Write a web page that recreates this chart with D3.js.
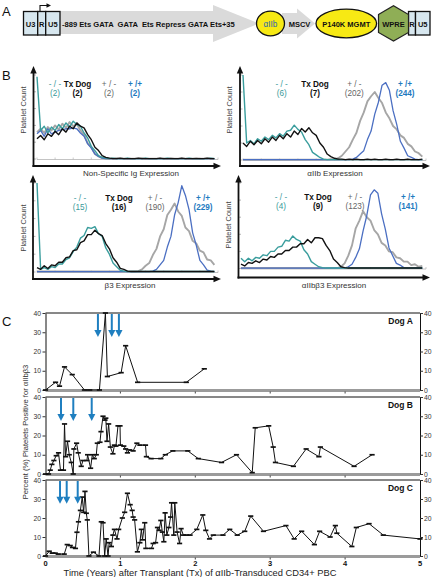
<!DOCTYPE html>
<html><head><meta charset="utf-8">
<script src="https://cdn.jsdelivr.net/npm/d3@7"></script>
<style>
body{margin:0;background:#fff}
svg{display:block;font-family:"Liberation Sans",Arial,Helvetica,sans-serif}
</style>
</head><body>
<svg id="c" width="433" height="577"></svg>
<script>
// ---------------- DATA ----------------
// Panel B: flow histograms (relative platelet count per expression bin)
const binStarts = [0,2,4,6,8,10,12,14,16,18,20,22,24,26,28,30,32,34,36,38,40,42,44,46,48,50,52,54,56,58,60,62,64,66,68,70,72,74,76,78,80,82,84,86,88,90,92,94,96,98];
const legendLabels = ['- / -','Tx Dog','+ / -','+ /+'];
const histXLabels = ['Non-Specific Ig Expression','\u03b1IIb Expression','\u03b23 Expression','\u03b1IIb\u03b23 Expression'];
const countsIg = [2,2,2,2];
const countsAIIb = [6,7,202,244];
const countsB3 = [15,16,190,229];
const countsAB3 = [4,9,123,141];

const igTeal = [98,34,39,31,38,34,41,36,43,38,45,41,39,31,25,15,10,4,2,1,0.5,1,0.5,0.5,0.5,1,0.5,0.5,0.5,0.5,1,0.5,0.5,0.5,0.5,0.5,1,0.5,0.5,0.5,0.5,0.5,1,0.5,0.5,0.5,0.5,0.5,1,0.5];
const igBlack = [24,28,23,30,27,33,29,36,32,39,36,43,39,37,29,23,14,10,4,2,1,0.5,0.5,1,0.5,0.5,0.5,0.5,1,0.5,0.5,0.5,0.5,0.5,1,0.5,0.5,0.5,0.5,0.5,1,0.5,0.5,0.5,0.5,0.5,0.5,1,0.5,0.5];
const igGray = [32,36,31,38,34,40,35,42,37,44,39,42,34,29,19,14,6,3,1,0.5,0.5,0.5,1,0.5,0.5,0.5,0.5,0.5,0.5,1,0.5,0.5,0.5,0.5,0.5,0.5,0.5,1,0.5,0.5,0.5,0.5,0.5,0.5,1,0.5,0.5,0.5,0.5,0.5];
const igBlue = [30,34,27,36,30,32,34,35,36,36,37,36,31,27,18,13,6,3,1,0.5,0.5,0.5,0.5,0.5,0.5,0.5,0.5,0.5,0.5,0.5,0.5,0.5,0.5,0.5,0.5,0.5,0.5,0.5,0.5,0.5,0.5,0.5,0.5,0.5,0.5,0.5,0.5,0.5,0.5,0.5];

const aTeal = [100,20,23,19,25,22,27,24,29,26,31,28,34,35,41,36,33,24,18,9,6,3,1,0.5,0.5,0.5,0.5,0.5,0.5,0.5,0.5,0.5,0.5,0.5,0.5,0.5,0.5,0.5,0.5,0.5,0.5,0.5,0.5,0.5,0.5,0.5,0.5,0.5,0.5,0.5];
const aBlack = [20,16,22,18,23,19,25,21,27,23,29,25,31,27,34,30,37,33,38,32,29,20,15,7,4,2,1,1,0.5,1,0.5,1,0.5,0.5,1,0.5,1,0.5,0.5,1,0.5,0.5,1,0.5,0.5,1,0.5,0.5,0.5,1];
const aGray = [0.5,0.5,0.5,0.5,0.5,0.5,0.5,0.5,0.5,0.5,0.5,0.5,0.5,0.5,0.5,0.5,0.5,0.5,0.5,0.5,0.5,0.5,0.5,0.5,1,1,2,5,10,15,24,32,46,56,69,75,80,73,67,56,49,40,36,29,26,19,16,10,8,4];
const aBlue = [0.5,0.5,0.5,0.5,0.5,0.5,0.5,0.5,0.5,0.5,0.5,0.5,0.5,0.5,0.5,0.5,0.5,0.5,0.5,0.5,0.5,0.5,0.5,0.5,0.5,0.5,0.5,0.5,0.5,0.5,1,3,7,11,24,34,54,68,88,91,82,58,42,22,14,5,3,1,0.5,0.5];

const bTeal = [100,3,5,3,6,5,9,9,14,16,23,28,38,41,50,49,51,43,40,27,20,10,6,2,1,0.5,0.5,0.5,0.5,0.5,0.5,0.5,0.5,0.5,0.5,0.5,0.5,0.5,0.5,0.5,0.5,0.5,0.5,0.5,0.5,0.5,0.5,0.5,0.5,0.5];
const bBlack = [5,3,7,4,8,7,11,11,16,17,24,25,33,35,42,42,47,43,41,32,26,16,11,4,3,1,0.5,0.5,0.5,0.5,0.5,0.5,0.5,0.5,0.5,0.5,0.5,0.5,0.5,0.5,0.5,0.5,0.5,0.5,0.5,0.5,0.5,0.5,0.5,0.5];
const bGray = [0.5,0.5,0.5,0.5,0.5,0.5,0.5,0.5,0.5,0.5,0.5,0.5,0.5,0.5,0.5,0.5,0.5,0.5,0.5,0.5,0.5,0.5,0.5,0.5,0.5,0.5,0.5,0.5,1,3,7,10,19,26,40,48,64,70,77,68,63,50,46,35,32,24,22,14,13,8];
const bBlue = [0.5,0.5,0.5,0.5,0.5,0.5,0.5,0.5,0.5,0.5,0.5,0.5,0.5,0.5,0.5,0.5,0.5,0.5,0.5,0.5,0.5,0.5,0.5,0.5,0.5,0.5,0.5,0.5,0.5,0.5,0.5,0.5,1,3,8,13,28,40,64,78,97,86,70,44,30,13,8,2,1,0.5];

const abTeal = [12,8,12,9,13,12,16,15,20,20,25,26,33,32,38,34,32,22,17,8,5,2,1,0.5,0.5,0.5,0.5,0.5,0.5,0.5,0.5,0.5,0.5,0.5,0.5,0.5,0.5,0.5,0.5,0.5,0.5,0.5,0.5,0.5,0.5,0.5,0.5,0.5,0.5,0.5];
const abBlack = [5,3,7,6,9,7,11,10,14,13,17,17,21,21,25,25,29,29,34,30,36,36,35,27,21,11,7,2,1,0.5,0.5,0.5,0.5,0.5,0.5,0.5,0.5,0.5,0.5,0.5,0.5,0.5,0.5,0.5,0.5,0.5,0.5,0.5,0.5,0.5];
const abGray = [0.5,0.5,0.5,0.5,0.5,0.5,0.5,0.5,0.5,0.5,0.5,0.5,0.5,0.5,0.5,0.5,0.5,0.5,0.5,0.5,0.5,0.5,0.5,0.5,0.5,0.5,0.5,2,6,15,27,47,56,67,60,56,45,40,30,27,20,19,13,12,8,8,4,5,2,3];
const abBlue = [0.5,0.5,0.5,0.5,0.5,0.5,0.5,0.5,0.5,0.5,0.5,0.5,0.5,0.5,0.5,0.5,0.5,0.5,0.5,0.5,0.5,0.5,0.5,0.5,0.5,0.5,0.5,0.5,0.5,2,5,13,23,44,62,86,92,88,64,46,24,15,6,4,1,0.5,0.5,0.5,0.5,0.5];

// Panel C: percent platelets positive for aIIbb3 over time (years)
const dogAYears = [0,0.134,0.187,0.254,0.357,0.52,0.59,0.72,0.80,0.826,1.01,1.07,1.23,1.88,2.12];
const dogAValues = [0,4,2,12,8,0,0,0,40,7,9,23,4,4,11];
const dogAArrows = [0.70,0.885,0.98];

const dogBYears = [0,0.04,0.063,0.085,0.112,0.143,0.174,0.2,0.24,0.254,0.268,0.294,0.317,0.344,0.37,0.379,0.415,0.437,0.477,0.5,0.553,0.562,0.602,0.625,0.651,0.678,0.692,0.727,0.741,0.768,0.794,0.805,0.821,0.843,0.866,0.9,0.92,0.94,0.968,0.995,1.0,1.045,1.07,1.094,1.125,1.17,1.22,1.26,1.335,1.347,1.41,1.54,1.6,1.7,1.9,2.04,2.35,2.55,2.76,2.8,2.98,3.04,3.07,3.31,3.48,3.65,3.67,4.12,4.36];
const dogBValues = [0,0,2,5,7,9.5,11,2,2,26,9,17,10,6,0,13,16,11,4,7,7,10,3,10,8,10,16,16.5,22,30,28,29,17,26,14,10.5,15,14.5,25,25,15,14.5,13,11,12.5,12,16,15,15,9,8,8,10,12,12,8,6,10,0.7,24,25,14,6,4,13,9,14,4,10];
const dogBArrows = [0.207,0.371,0.617];

const dogCYears = [0,0.05,0.09,0.13,0.17,0.25,0.29,0.33,0.36,0.40,0.42,0.44,0.466,0.49,0.51,0.527,0.545,0.558,0.58,0.64,0.714,0.745,0.768,0.79,0.81,0.835,0.85,0.88,0.90,0.92,0.955,0.977,1.026,1.057,1.094,1.13,1.157,1.17,1.19,1.227,1.26,1.28,1.295,1.325,1.34,1.415,1.437,1.47,1.495,1.517,1.54,1.56,1.58,1.597,1.62,1.647,1.67,1.683,1.713,1.726,1.757,1.79,1.81,1.84,1.88,1.93,2.02,2.1,2.14,2.19,2.24,2.37,2.46,2.56,2.66,2.74,2.91,3.21,3.32,3.42,3.59,3.66,3.8,3.87,3.89,4.09,4.15,4.32,4.51,5.0];
const dogCValues = [0,2.5,1.5,1.5,1,1,6,5.5,4.5,4,12.5,18,24,31,23,34,22.5,19,0,2,0,18,17.5,0,9,0,7,5,11,14,9,14,20,23,33,27,24,20.5,19,2.2,7,14,8.5,17.5,4,4,6.6,7,15,13.5,18.7,12.6,7.5,22.7,11,15,20.5,28,11,28,12.6,6.6,14.4,11,11,11,14,21.6,13.5,9,11,11,14,11,13,21,13,16,9,13,6,13,10,16,12,5,15,17,11,9];
const dogCArrows = [0.194,0.283,0.43];

const yTicksC = [0,10,20,30,40];
const yearTicks = [0,1,2,3,4,5];

// ---------------- DRAW ----------------
const svg = d3.select('#c');
const C_TEAL = '#3a9d9d', C_BLUE_LINE = '#4b6fc2', C_GRAY = '#a6a6a6', C_ARROW = '#1f7fc0';

function txt(g, x, y, s, o = {}) {
  return g.append('text').attr('x', x).attr('y', y).text(s)
    .attr('font-size', o.size || 8).attr('font-weight', o.weight || 'normal')
    .attr('fill', o.fill || '#111').attr('text-anchor', o.anchor || 'middle')
    .style('white-space', 'pre');
}

// panel letters
txt(svg, 2, 16, 'A', {size: 13, anchor: 'start'});
txt(svg, 2, 80, 'B', {size: 13, anchor: 'start'});
txt(svg, 2, 326, 'C', {size: 13, anchor: 'start'});

// ---------- Panel A : vector map ----------
const A = svg.append('g');
A.append('polygon').attr('points', '60,11 213,11 213,5 259,23.5 213,42 213,34 60,34').attr('fill', '#dadada');
A.append('polygon').attr('points', '282,13 297,13 297,8.5 315,23.5 297,38.5 297,34 282,34').attr('fill', '#dadada');
function ltrBox(x0, widths, labels) {
  let x = x0;
  widths.forEach((w, i) => {
    A.append('rect').attr('x', x).attr('y', 11.5).attr('width', w).attr('height', 23.5)
      .attr('fill', '#d7e7ef').attr('stroke', '#111').attr('stroke-width', 1.3);
    txt(A, x + w / 2, 26.5, labels[i], {size: 7.5, weight: 'bold'});
    x += w;
  });
}
ltrBox(23.5, [14.2, 8, 14.3], ['U3', 'R', 'U5']);
ltrBox(408.5, [7, 14.5], ['R', 'U5']);
A.append('path').attr('d', 'M40,11.5 V5.5 H47.5').attr('fill', 'none').attr('stroke', '#111').attr('stroke-width', 1.1);
A.append('polygon').attr('points', '46.5,3.2 51,5.5 46.5,7.8').attr('fill', '#111');
txt(A, 62, 26.5, '-889 Ets GATA  GATA  Ets Repress GATA Ets+35', {size: 7.6, weight: 'bold', anchor: 'start'});
A.append('ellipse').attr('cx', 270.5).attr('cy', 23.5).attr('rx', 14).attr('ry', 12.3)
  .attr('fill', '#f7e914').attr('stroke', '#111').attr('stroke-width', 1.3);
txt(A, 270.5, 26.8, '\u03b1IIb', {size: 8.2, fill: '#2a68b0'});
txt(A, 299.5, 26.5, 'MSCV', {size: 7.5, weight: 'bold'});
A.append('ellipse').attr('cx', 346.3).attr('cy', 23.5).attr('rx', 30.3).attr('ry', 14.3)
  .attr('fill', '#f7e914').attr('stroke', '#111').attr('stroke-width', 1.3);
txt(A, 346.3, 26.5, 'P140K MGMT', {size: 7.5, weight: 'bold'});
A.append('polygon').attr('points', '378.5,14.5 393.5,5.8 408.5,14.5 408.5,32.5 393.5,41 378.5,32.5')
  .attr('fill', '#8fae56').attr('stroke', '#222').attr('stroke-width', 1.2);
txt(A, 393.5, 26.5, 'WPRE', {size: 7.5, weight: 'bold'});

// ---------- Panel B : histograms ----------
const histPanels = [
  {ax: 33.5, ayTop: 66, xAxisY: 166, axEnd: 221, base: 159, x0: 37, x1: 218, top: 75,
   series: [igGray, igBlue, igTeal, igBlack], counts: countsIg, legX: [55, 77.5, 109, 135], legY: 87,
   xl: histXLabels[0], xlX: 131, xlY: 175.5, ylX: 25.5, ylY: 110},
  {ax: 240, ayTop: 66, xAxisY: 166, axEnd: 430, base: 160, x0: 243, x1: 426, top: 75,
   series: [aGray, aBlue, aTeal, aBlack], counts: countsAIIb, legX: [281.7, 315, 354.3, 405], legY: 87,
   xl: histXLabels[1], xlX: 335, xlY: 176, ylX: 232, ylY: 110},
  {ax: 33, ayTop: 175, xAxisY: 279, axEnd: 221, base: 272, x0: 37, x1: 218, top: 183,
   series: [bGray, bBlue, bTeal, bBlack], counts: countsB3, legX: [80, 119, 155, 203], legY: 200.5,
   xl: histXLabels[2], xlX: 130, xlY: 288, ylX: 25.5, ylY: 228},
  {ax: 238.5, ayTop: 175, xAxisY: 277.5, axEnd: 430, base: 268.5, x0: 241, x1: 426, top: 183,
   series: [abGray, abBlue, abTeal, abBlack], counts: countsAB3, legX: [281, 318, 355, 408], legY: 200,
   xl: histXLabels[3], xlX: 334, xlY: 288, ylX: 231, ylY: 225}
];
const seriesStyle = [
  {c: C_GRAY, w: 1.9}, {c: C_BLUE_LINE, w: 1.3}, {c: C_TEAL, w: 1.4}, {c: '#111', w: 1.4}
];
const legendColors = ['#3a9a9a', '#111', '#666', '#1f7bbf'];
const legendWeights = ['normal', 'bold', 'normal', 'bold'];

histPanels.forEach(p => {
  const g = svg.append('g');
  const x = d3.scaleLinear([0, 100], [p.x0, p.x1]);
  const y = d3.scaleLinear([0, 100], [p.base, p.top]);
  g.append('line').attr('x1', p.x0).attr('x2', p.x1).attr('y1', p.base + 0.5).attr('y2', p.base + 0.5)
    .attr('stroke', '#b5b5b5').attr('stroke-width', 0.8);
  x.ticks(10).forEach(t => g.append('line').attr('x1', x(t)).attr('x2', x(t))
    .attr('y1', p.base + 0.5).attr('y2', p.base - 1.5).attr('stroke', '#b5b5b5').attr('stroke-width', 0.7));
  y.ticks(4).forEach(t => g.append('line').attr('x1', p.ax).attr('x2', p.ax + 2.5)
    .attr('y1', y(t)).attr('y2', y(t)).attr('stroke', '#999').attr('stroke-width', 0.7));
  const line = d3.line().x((d, i) => x(binStarts[i])).y(d => y(d));
  p.series.forEach((s, k) => {
    g.append('path').datum(s).attr('d', line).attr('fill', 'none')
      .attr('stroke', seriesStyle[k].c).attr('stroke-width', seriesStyle[k].w)
      .attr('stroke-linejoin', 'round');
  });
  g.append('line').attr('x1', p.ax).attr('x2', p.ax).attr('y1', p.xAxisY + 1).attr('y2', p.ayTop + 6)
    .attr('stroke', '#111').attr('stroke-width', 1.8);
  g.append('polygon').attr('points', `${p.ax - 3.2},${p.ayTop + 7.5} ${p.ax},${p.ayTop} ${p.ax + 3.2},${p.ayTop + 7.5}`).attr('fill', '#111');
  g.append('line').attr('x1', p.ax - 1).attr('x2', p.axEnd - 6).attr('y1', p.xAxisY).attr('y2', p.xAxisY)
    .attr('stroke', '#111').attr('stroke-width', 1.8);
  g.append('polygon').attr('points', `${p.axEnd - 7.5},${p.xAxisY - 3.2} ${p.axEnd},${p.xAxisY} ${p.axEnd - 7.5},${p.xAxisY + 3.2}`).attr('fill', '#111');
  p.legX.forEach((lx, i) => {
    txt(g, lx, p.legY, legendLabels[i], {size: 8.2, weight: legendWeights[i], fill: legendColors[i]});
    txt(g, lx, p.legY + 9, '(' + p.counts[i] + ')', {size: 8.2, weight: legendWeights[i], fill: legendColors[i]});
  });
  txt(g, p.xlX, p.xlY, p.xl, {size: 8, fill: '#333'});
  txt(g, 0, 0, 'Platelet Count', {size: 7.5, fill: '#444'})
    .attr('transform', `translate(${p.ylX},${p.ylY}) rotate(-90)`);
});

// ---------- Panel C : time courses ----------
const xC = d3.scaleLinear([0, 5], [45.5, 420]);
const dogs = [
  {name: 'Dog A', years: dogAYears, values: dogAValues, arrows: dogAArrows, top: 313, bottom: 390},
  {name: 'Dog B', years: dogBYears, values: dogBValues, arrows: dogBArrows, top: 397, bottom: 474},
  {name: 'Dog C', years: dogCYears, values: dogCValues, arrows: dogCArrows, top: 480, bottom: 556}
];
dogs.forEach((d, di) => {
  const g = svg.append('g');
  const y = d3.scaleLinear([0, 40], [d.bottom, d.top]);
  g.append('line').attr('x1', xC(0)).attr('x2', xC(5)).attr('y1', y(40)).attr('y2', y(40))
    .attr('stroke', '#111').attr('stroke-width', 1);
  const la = g.append('g').attr('transform', `translate(${xC(0)},0)`)
    .call(d3.axisLeft(y).tickValues(yTicksC).tickSize(3).tickSizeOuter(0).tickPadding(1.5));
  const ra = g.append('g').attr('transform', `translate(${xC(5)},0)`)
    .call(d3.axisRight(y).tickValues(yTicksC).tickSize(3).tickSizeOuter(0).tickPadding(1));
  [la, ra].forEach(a => {
    a.select('.domain').attr('stroke', '#111').attr('stroke-width', 1);
    a.selectAll('.tick line').attr('stroke', '#333');
    a.selectAll('text').attr('font-size', 6.8).attr('fill', '#333')
      .attr('font-family', '"Liberation Sans",Arial,sans-serif');
  });
  g.append('line').attr('x1', xC(0)).attr('x2', xC(5)).attr('y1', y(0) + 0.5).attr('y2', y(0) + 0.5)
    .attr('stroke', '#9b9b9b').attr('stroke-width', 3);
  yearTicks.slice(1, 5).forEach(t => g.append('line').attr('x1', xC(t)).attr('x2', xC(t))
    .attr('y1', y(0) + 1.5).attr('y2', y(0) + 3.5).attr('stroke', '#444').attr('stroke-width', 1));
  const pts = d.years.map((yr, i) => [yr, d.values[i]]);
  g.append('path').datum(pts)
    .attr('d', d3.line().x(p => xC(p[0])).y(p => y(p[1])))
    .attr('fill', 'none').attr('stroke', '#111').attr('stroke-width', 1);
  g.selectAll('.cap').data(pts).join('line')
    .attr('x1', p => xC(p[0]) - 2.6).attr('x2', p => xC(p[0]) + 2.6)
    .attr('y1', p => y(p[1])).attr('y2', p => y(p[1]))
    .attr('stroke', '#111').attr('stroke-width', 1.7);
  d.arrows.forEach(a => {
    const ax = xC(a), tip = y(27.5);
    g.append('line').attr('x1', ax).attr('x2', ax).attr('y1', y(40) + 1).attr('y2', tip - 5)
      .attr('stroke', C_ARROW).attr('stroke-width', 2);
    g.append('polygon').attr('points', `${ax - 3.6},${tip - 7} ${ax + 3.6},${tip - 7} ${ax},${tip}`).attr('fill', C_ARROW);
  });
  txt(g, 413, y(40) + 11, d.name, {size: 8.5, weight: 'bold', anchor: 'end'});
  if (di === 2) {
    yearTicks.forEach(t => txt(g, xC(t), y(0) + 9.5, String(t), {size: 7.5, weight: 'bold'}));
  }
});
txt(svg, 200, 575.5, 'Time (Years) after Transplant (Tx) of \u03b1IIb-Transduced CD34+ PBC', {size: 9.3, fill: '#222'});
txt(svg, 0, 0, 'Percent (%) Platelets Positive for \u03b1IIb\u03b23', {size: 7.6, fill: '#333'})
  .attr('transform', 'translate(27.5,432) rotate(-90)');
</script>
</body></html>
